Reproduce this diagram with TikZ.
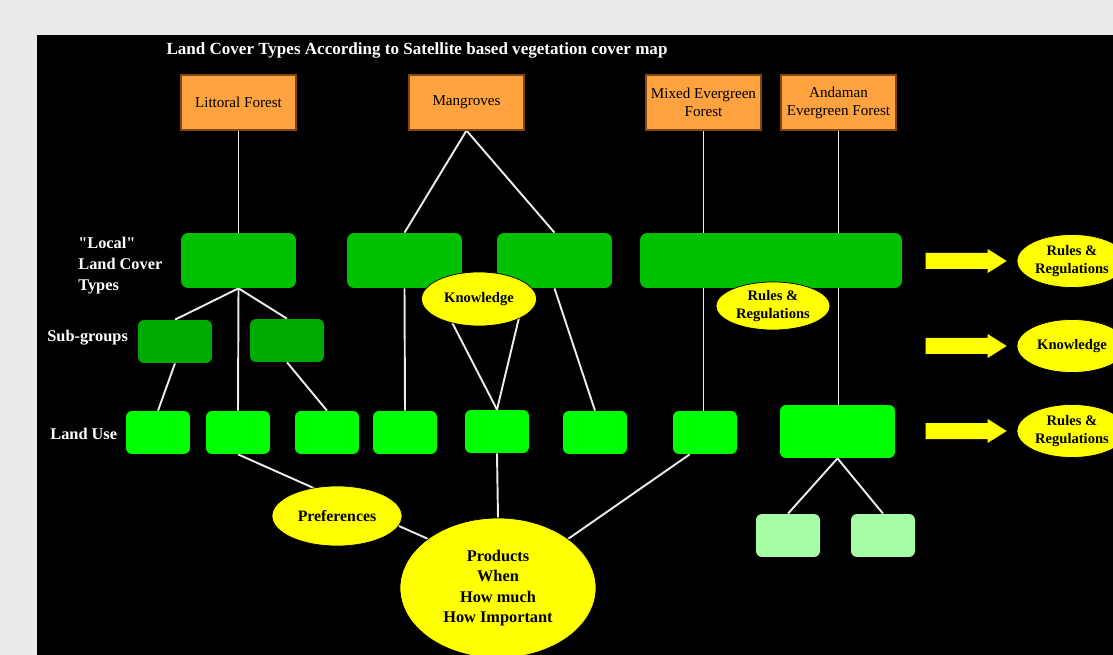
\documentclass[tikz,border=0pt]{standalone}
\usepackage{fontspec}
\setmainfont{Liberation Serif}
\newfontfamily\quotefont{Liberation Serif}[Ligatures=TeXOff]
\usetikzlibrary{shapes.geometric,calc,backgrounds}
\definecolor{sheet}{RGB}{235,235,235}
\definecolor{forestorange}{RGB}{255,162,64}
\definecolor{forestedge}{RGB}{130,70,20}
\definecolor{localgreen}{RGB}{0,192,0}
\definecolor{subgreen}{RGB}{0,170,0}
\definecolor{usegreen}{RGB}{0,255,0}
\definecolor{palegreen}{RGB}{166,255,166}
\definecolor{tagyellow}{RGB}{255,255,0}

\begin{document}
\begin{tikzpicture}[x=0.02cm,y=-0.02cm,
  box/.style={rectangle,inner sep=0pt,align=center},
  satbox/.style={box,fill=forestorange,draw=forestedge,line width=0.6pt,
    minimum width=2.3cm,minimum height=1.1cm,font=\fontsize{8.6}{10.2}\selectfont},
  localbox/.style={box,fill=localgreen,rounded corners=0.14cm,minimum height=1.1cm},
  subbox/.style={box,fill=subgreen,rounded corners=0.12cm,minimum width=1.48cm,minimum height=0.86cm},
  usecell/.style={box,fill=usegreen,rounded corners=0.12cm,minimum width=1.28cm,minimum height=0.86cm},
  palecell/.style={box,fill=palegreen,rounded corners=0.12cm,minimum width=1.28cm,minimum height=0.86cm},
  tag/.style={ellipse,fill=tagyellow,draw=black,inner sep=0pt,align=center,
    font=\bfseries\fontsize{8.3}{10}\selectfont},
  rowlabel/.style={text=white,anchor=west,align=left,inner sep=0pt,
    font=\bfseries\fontsize{9.3}{12}\selectfont},
  link/.style={draw=white!92!black,line width=1.1pt}]
\useasboundingbox (0,0) rectangle (1113,655);

% satellite classes
\node[text=white,font=\bfseries\fontsize{9.7}{12}\selectfont] (title) at (417,50)
  {Land Cover Types According to Satellite based vegetation cover map};
\node[satbox] (lf) at (238.5,102.5) {Littoral Forest};
\node[satbox] (mg) at (466.5,102.5) {Mangroves};
\node[satbox] (me) at (703.5,102.5) {Mixed Evergreen\\Forest};
\node[satbox] (ae) at (838.5,102.5) {Andaman\\Evergreen Forest};

% local types, sub-groups, land use
\foreach \n/\x in {l1/238.5,l2/404.5,l3/554.5}
  \node[localbox,minimum width=2.3cm] (\n) at (\x,260.5) {};
\node[localbox,minimum width=5.24cm] (l4) at (771,260.5) {};
\node[subbox] (s1) at (175,341.5) {};
\node[subbox] (s2) at (287,340.5) {};
\foreach \n/\x in {u1/158,u2/238,u3/327,u4/405,u6/595,u7/705}
  \node[usecell] (\n) at (\x,432.5) {};
\node[usecell] (u5) at (497,431.5) {};
\node[usecell,minimum width=2.3cm,minimum height=1.06cm] (u8) at (837.5,431.5) {};
\node[palecell] (p1) at (788,535.5) {};
\node[palecell] (p2) at (883,535.5) {};

\node[rowlabel] (lclabel) at (78,266) {{\quotefont\bfseries"}Local{\quotefont\bfseries"}\\Land Cover\\Types};
\node[rowlabel] (sglabel) at (47,338) {Sub-groups};
\node[rowlabel] (lulabel) at (50,434) {Land Use};

% yellow notes
\node[tag,minimum width=2.3cm,minimum height=1.08cm] (kn) at (479,299) {Knowledge};
\node[tag,minimum width=2.28cm,minimum height=0.96cm] (rr) at (773,306) {Rules \&\\Regulations};
\node[tag,minimum width=2.6cm,minimum height=1.2cm,font=\bfseries\fontsize{9}{11}\selectfont] (pf) at (337,516) {Preferences};
\node[tag,minimum width=3.92cm,minimum height=2.8cm,font=\bfseries\fontsize{9.3}{11.6}\selectfont] (pr) at (498,588)
  {Products\\When\\How much\\How Important};
\foreach \n/\y/\txt in {ra/261/{Rules \&\\Regulations},kb/346/Knowledge,rb/431/{Rules \&\\Regulations}}{
  \node[tag,minimum width=2.2cm,minimum height=1.06cm] (\n) at (1072,\y) {\txt};
  \fill[tagyellow] ($(\n.west)+(-91,-8)$) -- ++(62,0) -- ++(0,-4) -- ++(19,12)
    -- ++(-19,12) -- ++(0,-4) -- ++(-62,0) -- cycle;
}

\begin{scope}[on background layer]
\fill[sheet] (0,0) rectangle (1113,655);
\fill[black] (37,35) rectangle (1113,655);
\draw[link] (lf.south) -- (l1.north);
\draw[link] (mg.south) -- (l2.north);
\draw[link] (mg.south) -- (l3.north);
\draw[link] (me.south) -- (u7.north -| me.south);
\draw[link] (ae.south) -- (u8.north -| ae.south);
\draw[link] (l1.south) -- (s1.north);
\draw[link] (l1.south) -- (s2.north);
\draw[link] (l1.south) -- (u2.north);
\draw[link] (s1.south) -- (u1.north);
\draw[link] (s2.south) -- (u3.north);
\draw[link] (l2.south) -- (u4.north);
\draw[link] (l3.south) -- (u6.north);
\draw[link] ($(l2.south)+(30,0)$) -- (u5.north);
\draw[link] ($(l3.south)+(-28.5,0)$) -- (u5.north);
\draw[link] (u2.south) -- (pr.145);
\draw[link] (u5.south) -- (pr.north);
\draw[link] (u7.235) -- (pr.35);
\draw[link] (u8.south) -- (p1.north);
\draw[link] (u8.south) -- (p2.north);
\end{scope}
\end{tikzpicture}
\end{document}
